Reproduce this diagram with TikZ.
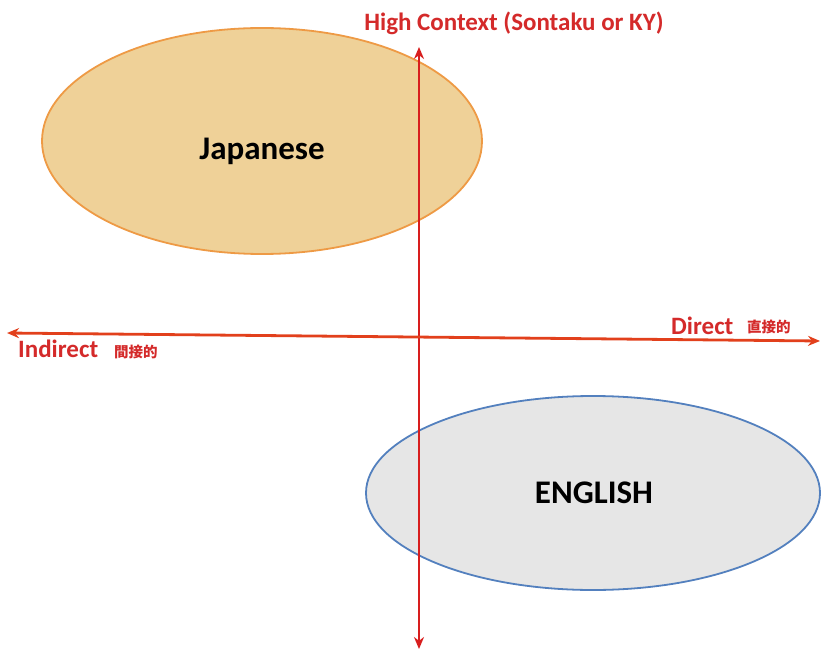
\documentclass[tikz,border=0pt]{standalone}
\usepackage{fontspec}
\setmainfont{Carlito}
\newfontfamily\cjk{Noto Sans CJK JP}
\usetikzlibrary{arrows.meta}
\definecolor{axred}{HTML}{D81E1E}
\definecolor{axorange}{HTML}{E2401C}
\definecolor{labred}{HTML}{D42A2A}
\definecolor{tan}{HTML}{EFD198}
\definecolor{tanedge}{HTML}{EE9A45}
\definecolor{grayfill}{HTML}{E6E6E6}
\definecolor{blueedge}{HTML}{5380BE}
\tikzset{
  axis/.style={line width=2.8pt,{Stealth[length=12pt,width=10pt]}-{Stealth[length=12pt,width=10pt]}},
  lab/.style={font=\bfseries\fontsize{25}{27}\selectfont, text=labred, inner sep=0pt},
  cjklab/.style={font=\cjk\bfseries\fontsize{14.5}{16}\selectfont, text=labred, inner sep=0pt},
  big/.style={font=\bfseries\fontsize{33}{36}\selectfont, text=black, inner sep=0pt},
}
\begin{document}
\begin{tikzpicture}[x=1pt,y=-1pt]
\useasboundingbox (0,0) rectangle (829,660);
% ellipses
\draw[fill=tan, draw=tanedge, line width=1.8pt] (262,141) ellipse [x radius=220, y radius=113];
\draw[fill=grayfill, draw=blueedge, line width=1.8pt] (593,493) ellipse [x radius=227, y radius=97];
% axes
\coordinate (top) at (419,47);
\coordinate (bot) at (419,649);
\coordinate (left) at (7,333);
\coordinate (right) at (820,341);
\draw[axis, draw=axred, fill=axred] (top) -- (bot);
\draw[axis, draw=axorange, fill=axorange] (left) -- (right);
% labels
\node[big] (jp) at (262,151) {Japanese};
\node[big] (en) at (594,493) {ENGLISH};
\node[lab] (hc) at (514,23) {High Context (Sontaku or KY)};
\node[lab, anchor=west] (dir) at (671,326) {Direct};
\node[cjklab, anchor=west] (dirj) at (747,327) {直接的};
\node[lab, anchor=west] (ind) at (18,349) {Indirect};
\node[cjklab, anchor=west] (indj) at (114,352) {間接的};
\end{tikzpicture}
\end{document}
